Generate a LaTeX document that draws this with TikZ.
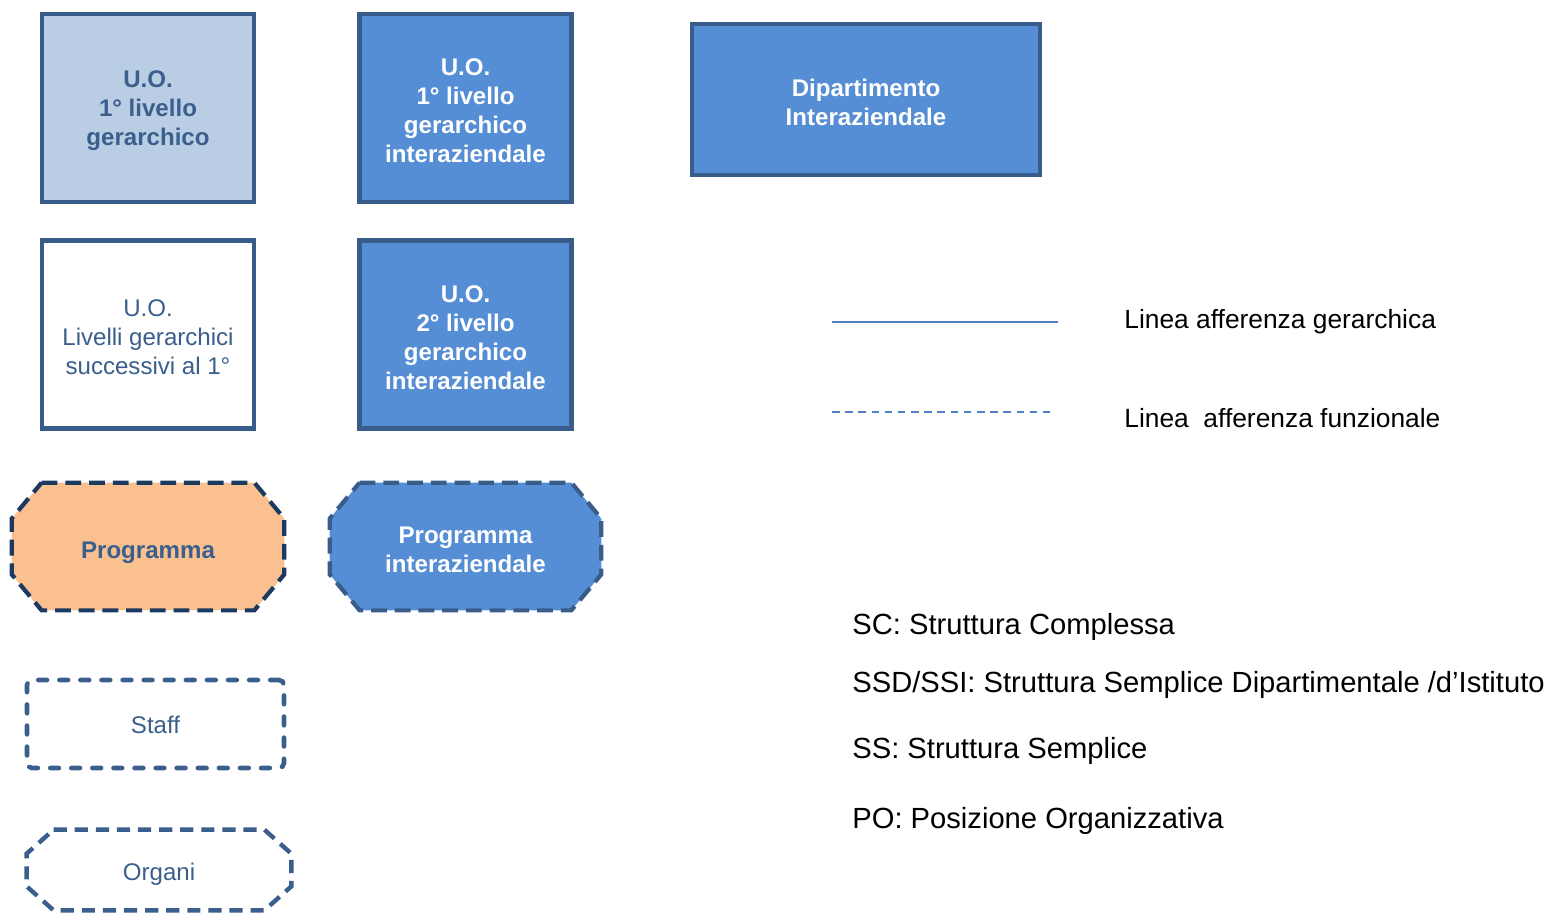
\documentclass[tikz,border=0pt]{standalone}
\usepackage{fontspec}
\setmainfont{Liberation Sans}
\usetikzlibrary{positioning}

\definecolor{bordoblu}{HTML}{385D8A}
\definecolor{chiaro}{HTML}{B9CDE5}
\definecolor{scuro}{HTML}{558ED5}
\definecolor{testoblu}{HTML}{3A5F8C}
\definecolor{arancio}{HTML}{FAC090}
\definecolor{bordoprog}{HTML}{1C3A61}
\definecolor{lineablu}{HTML}{4F81C7}

\tikzset{
    uobox/.style = {rectangle, draw = bordoblu, line width = 2.3pt,
                    minimum width = 4.24cm, minimum height = 3.76cm},
    testobox/.style = {align = center, inner sep = 0pt, yshift = -0.06cm,
                       font = \fontsize{13.7}{16.5}\selectfont},
    legenda/.style = {anchor = base west, inner sep = 0pt,
                      font = \fontsize{15}{18}\selectfont},
    sigla/.style = {anchor = base west, inner sep = 0pt,
                    font = \fontsize{16.6}{20}\selectfont}
}

\begin{document}
\begin{tikzpicture}

    \useasboundingbox (0,0) rectangle (31.02,-18.32);

    % unita' operative
    \node[uobox,
          fill = chiaro] (UOprimo) at (2.96,-2.16) {};
    \node[testobox, text = testoblu] (UOprimo-t) at (UOprimo.center)
        {\bfseries U.O.\\\bfseries 1° livello\\\bfseries gerarchico};

    \node[uobox,
          fill = scuro] (UOinter) at (9.31,-2.16) {};
    \node[testobox, text = white] (UOinter-t) at (UOinter.center)
        {\bfseries U.O.\\\bfseries 1° livello\\\bfseries gerarchico\\\bfseries interaziendale};

    \node[rectangle,
          draw = bordoblu,
          line width = 2.3pt,
          fill = scuro,
          minimum width = 6.96cm,
          minimum height = 3.02cm] (Dip) at (17.32,-1.99) {};
    \node[testobox, text = white] (Dip-t) at (Dip.center)
        {\bfseries Dipartimento\\\bfseries Interaziendale};

    \node[uobox,
          fill = white] (UOsucc) at (2.96,-6.69) {};
    \node[testobox, text = testoblu] (UOsucc-t) at (UOsucc.center)
        {U.O.\\Livelli gerarchici\\successivi al 1°};

    \node[uobox,
          fill = scuro] (UOsec) at (9.31,-6.69) {};
    \node[testobox, text = white] (UOsec-t) at (UOsec.center)
        {\bfseries U.O.\\\bfseries 2° livello\\\bfseries gerarchico\\\bfseries interaziendale};

    % programmi
    \node[minimum width = 5.44cm,
          minimum height = 2.54cm,
          inner sep = 0pt] (Prog) at (2.96,-10.93) {};
    \draw[draw = bordoprog, fill = arancio, line width = 2.4pt,
          dash pattern = on 9pt off 4.5pt]
        ([xshift=0.6cm]Prog.north west) -- ([xshift=-0.6cm]Prog.north east)
        -- ([yshift=-0.72cm]Prog.north east) -- ([yshift=0.72cm]Prog.south east)
        -- ([xshift=-0.6cm]Prog.south east) -- ([xshift=0.6cm]Prog.south west)
        -- ([yshift=0.72cm]Prog.south west) -- ([yshift=-0.72cm]Prog.north west)
        -- cycle;
    \node[testobox, text = testoblu, yshift = -0.06cm] (Prog-t) at (Prog.center) {\bfseries Programma};

    \node[minimum width = 5.42cm,
          minimum height = 2.54cm,
          inner sep = 0pt] (ProgInter) at (9.31,-10.93) {};
    \draw[draw = bordoblu, fill = scuro, line width = 2.4pt,
          dash pattern = on 9pt off 4.5pt]
        ([xshift=0.6cm]ProgInter.north west) -- ([xshift=-0.6cm]ProgInter.north east)
        -- ([yshift=-0.72cm]ProgInter.north east) -- ([yshift=0.72cm]ProgInter.south east)
        -- ([xshift=-0.6cm]ProgInter.south east) -- ([xshift=0.6cm]ProgInter.south west)
        -- ([yshift=0.72cm]ProgInter.south west) -- ([yshift=-0.72cm]ProgInter.north west)
        -- cycle;
    \node[testobox, text = white] (ProgInter-t) at (ProgInter.center)
        {\bfseries Programma\\\bfseries interaziendale};

    % staff e organi
    \node[rectangle,
          draw = testoblu,
          line width = 2.6pt,
          line cap = round,
          dash pattern = on 5pt off 7pt,
          rounded corners = 0.1cm,
          minimum width = 5.14cm,
          minimum height = 1.76cm] (Staff) at (3.11,-14.48) {};
    \node[testobox, text = testoblu, yshift = 0.04cm] (Staff-t) at (Staff.center) {Staff};

    \node[minimum width = 5.28cm,
          minimum height = 1.6cm,
          inner sep = 0pt] (Organi) at (3.18,-17.4) {};
    \draw[draw = testoblu, line width = 2.5pt,
          dash pattern = on 7.5pt off 4.5pt]
        ([xshift=0.54cm]Organi.north west) -- ([xshift=-0.54cm]Organi.north east)
        -- ([yshift=-0.48cm]Organi.north east) -- ([yshift=0.48cm]Organi.south east)
        -- ([xshift=-0.54cm]Organi.south east) -- ([xshift=0.54cm]Organi.south west)
        -- ([yshift=0.48cm]Organi.south west) -- ([yshift=-0.48cm]Organi.north west)
        -- cycle;
    \node[testobox, text = testoblu, yshift = -0.02cm] (Organi-t) at (Organi.center) {Organi};

    % legenda linee
    \coordinate (gerA) at (16.64,-6.44);
    \coordinate (gerB) at (21.16,-6.44);
    \coordinate (funA) at (16.64,-8.24);
    \coordinate (funB) at (21.10,-8.24);
    \draw[lineablu, line width = 0.9pt] (gerA) -- (gerB);
    \draw[lineablu, line width = 0.9pt, dash pattern = on 4.3pt off 3.2pt] (funA) -- (funB);
    \node[legenda] (Lger) at (22.48,-6.57) {Linea afferenza gerarchica};
    \node[legenda] (Lfun) at (22.48,-8.55) {Linea \ afferenza funzionale};

    % sigle
    \node[sigla] (SC) at (17.04,-12.69) {SC: Struttura Complessa};
    \node[sigla] (SSD) at (17.04,-13.85) {SSD/SSI: Struttura Semplice Dipartimentale /d’Istituto};
    \node[sigla] (SS) at (17.04,-15.17) {SS: Struttura Semplice};
    \node[sigla] (PO) at (17.04,-16.57) {PO: Posizione Organizzativa};

\end{tikzpicture}
\end{document}
